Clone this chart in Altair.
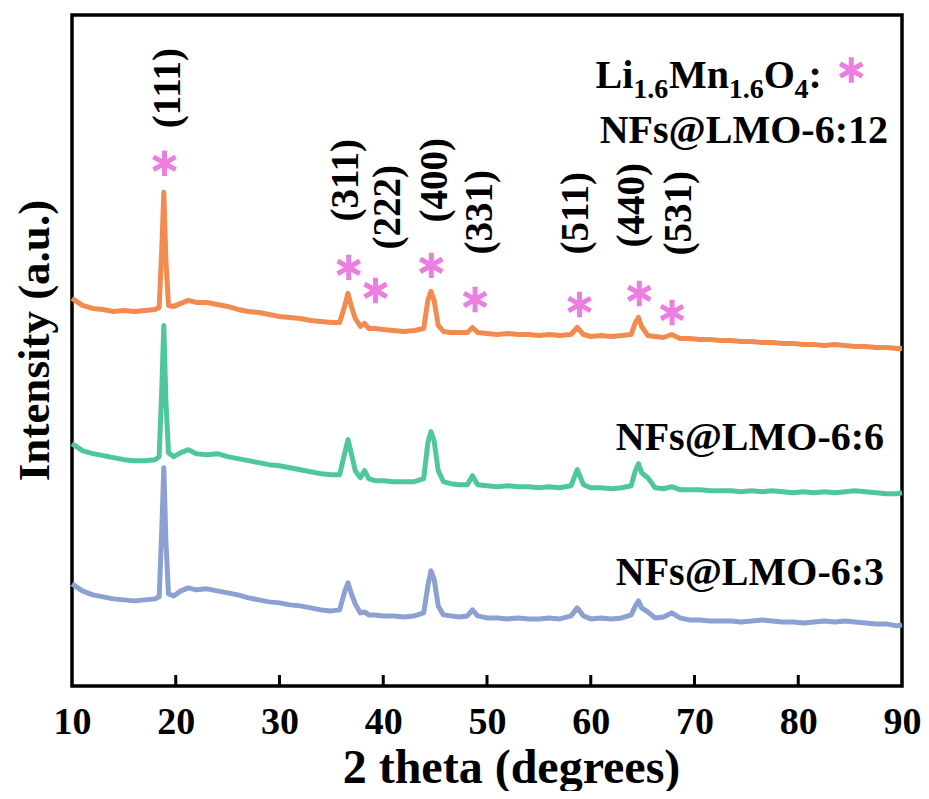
import altair as alt
import pandas as pd

# ---------------- data ----------------
TWO_THETA = [
    10, 11, 12, 13, 14, 15, 16, 17, 18,
    18.4, 18.65, 18.85, 19.05, 19.3, 19.8, 20.5, 21.2,
    22, 23, 24, 25, 26, 27, 28, 29, 30, 31, 32, 33, 34, 35,
    35.8, 36.3, 36.6, 36.9, 37.3, 37.8, 38.2, 38.6, 39.2,
    40, 41, 42, 43,
    43.9, 44.3, 44.6, 44.9, 45.3, 45.8, 46.5, 47.3, 48.1, 48.6, 49.1,
    50, 51, 52, 53, 54, 55, 56, 57,
    58.1, 58.7, 59.3, 60, 61, 62, 63,
    63.9, 64.3, 64.6, 64.9, 65.5, 66.2, 67, 67.8, 68.6, 69.5,
    70.5, 71.5, 72.5, 73.5, 74.5, 75.5, 76.5, 77.5, 78.5, 79.5,
    80.5, 81.5, 82.5, 83.5, 84.5, 85.5, 86.5, 87.5, 88.5, 89.5, 90,
]

I_6_12 = [
    387, 380, 377, 376, 374, 375, 374, 375, 376,
    378, 435, 493, 425, 380, 379, 382, 385,
    383, 383, 381, 379, 376, 374, 373, 371, 369, 368, 367, 365, 364, 363,
    363, 380, 392, 380, 367, 359, 362, 357, 357,
    356, 355, 354, 355,
    357, 385, 394, 385, 360, 354, 353, 353, 353, 358, 353,
    352, 351, 352, 351, 351, 350, 351, 350,
    351, 358, 351, 349, 350, 349, 350,
    351, 363, 368, 359, 350, 349, 348, 351, 347, 347,
    346, 346, 345, 345, 344, 344, 343, 343, 342, 342,
    341, 341, 340, 341, 340, 339, 339, 338, 338, 337, 337,
]

I_6_6 = [
    242, 235, 232, 230, 228, 226, 225, 225, 226,
    229, 295, 360, 285, 233, 229, 233, 236,
    232, 231, 232, 229, 227, 225, 223, 221, 220, 218, 216, 214, 212, 211,
    211, 233, 246, 233, 215, 208, 215, 207, 205,
    205, 204, 204, 204,
    207, 243, 254, 245, 215, 204, 202, 201, 201, 210, 201,
    200, 199, 200, 199, 199, 198, 199, 198,
    200, 216, 201, 198, 198, 197, 198,
    200, 215, 222, 213, 208, 198, 197, 199, 196, 196,
    196, 195, 195, 195, 194, 195, 194, 195, 194, 193,
    194, 193, 194, 193, 194, 195, 194, 193, 192, 192, 193,
]

I_6_3 = [
    102, 95, 91, 89, 87, 86, 85, 86, 87,
    89, 155, 218, 145, 92, 90, 95, 98,
    96, 97, 95, 93, 91, 88, 86, 84, 83, 81, 80, 78, 76, 75,
    76, 95, 103, 93, 82, 73, 74, 71, 71,
    70, 70, 69, 70,
    73, 100, 115, 107, 80, 71, 70, 69, 70, 76, 70,
    68, 68, 67, 68, 67, 67, 68, 67,
    70, 78, 70, 67, 68, 67, 68,
    71, 80, 85, 78, 74, 68, 69, 73, 68, 66,
    66, 65, 65, 65, 64, 65, 66, 65, 64, 64,
    63, 64, 65, 64, 65, 64, 63, 62, 62, 60, 61,
]

SERIES = ["NFs@LMO-6:12", "NFs@LMO-6:6", "NFs@LMO-6:3"]
COLORS = ["#F28B50", "#4FC79C", "#8CA0D2"]

# reflections (hkl) : label position and asterisk position
HKL = ["(111)", "(311)", "(222)", "(400)", "(331)", "(511)", "(440)", "(531)"]
HKL_X = [19.21, 36.38, 40.50, 45.01, 49.33, 58.54, 64.01, 68.51]
HKL_Y = [597, 505, 478, 505, 473, 472, 480, 472]
STAR_X = [18.92, 36.67, 39.26, 44.63, 48.85, 58.92, 64.68, 67.84, 85.11]
STAR_Y = [522, 418, 395, 420, 386, 381, 392, 373, 615]

# sample labels
LABEL_TEXT = ["NFs@LMO-6:12", "NFs@LMO-6:6", "NFs@LMO-6:3"]
LABEL_X = [88.65, 88.27, 88.27]
LABEL_Y = [542, 236, 101]

# Li1.6Mn1.6O4: formula pieces (text, 2theta, intensity, font size)
FORM_TEXT = ["Li", "1.6", "Mn", "1.6", "O", "4", ":"]
FORM_X = [60.46, 64.10, 67.55, 73.31, 76.67, 79.64, 80.98]
FORM_Y = [597, 587, 597, 587, 597, 587, 597]
FORM_SIZE = [40, 28, 40, 28, 40, 28, 40]

X_TICKS = [10, 20, 30, 40, 50, 60, 70, 80, 90]
INNER_TICKS = [20, 30, 40, 50, 60, 70, 80]

assert len(TWO_THETA) == len(I_6_12) == len(I_6_6) == len(I_6_3)

# ---------------- tables ----------------
rows = []
for name, vals in zip(SERIES, [I_6_12, I_6_6, I_6_3]):
    for t, v in zip(TWO_THETA, vals):
        rows.append({"theta": t, "I": v, "series": name})
curves = pd.DataFrame(rows)
hkl_df = pd.DataFrame({"t": HKL, "x": HKL_X, "y": HKL_Y})
star_df = pd.DataFrame({"x": STAR_X, "y": STAR_Y})
lab_df = pd.DataFrame({"t": LABEL_TEXT, "x": LABEL_X, "y": LABEL_Y})
form_df = pd.DataFrame({"t": FORM_TEXT, "x": FORM_X, "y": FORM_Y, "s": FORM_SIZE})
tick_df = pd.DataFrame({"x": INNER_TICKS})

FONT = "Liberation Serif, Times New Roman, DejaVu Serif, serif"
W, H = 830, 671

xscale = alt.Scale(domain=[10, 90], nice=False, zero=False)
yscale = alt.Scale(domain=[0, 670], nice=False, zero=False)

xenc = alt.X(
    "theta:Q", scale=xscale,
    axis=alt.Axis(
        title="2 theta (degrees)", values=X_TICKS, format="d",
        ticks=False, tickSize=0, grid=False, domain=False,
        labelFont=FONT, labelFontSize=38, labelFontWeight="bold", labelColor="black",
        labelBaseline="alphabetic", labelPadding=47, labelFlush=False,
        titleFont=FONT, titleFontSize=48, titleFontWeight="bold", titleColor="black",
        titleX=439, titleY=96, titleBaseline="alphabetic", titleAlign="center",
    ),
)
yenc = alt.Y(
    "I:Q", scale=yscale,
    axis=alt.Axis(
        title="Intensity (a.u.)", labels=False, ticks=False, tickSize=0,
        grid=False, domain=False,
        titleFont=FONT, titleFontSize=45, titleFontWeight="bold", titleColor="black",
        titleX=-24, titleY=325, titleAngle=270, titleAlign="center",
        titleBaseline="alphabetic",
    ),
)

lines = alt.Chart(curves).mark_line(strokeWidth=5, strokeJoin="round").encode(
    x=xenc, y=yenc,
    color=alt.Color("series:N", scale=alt.Scale(domain=SERIES, range=COLORS), legend=None),
    detail="series:N",
)

ticks = alt.Chart(tick_df).mark_rule(color="black", strokeWidth=3).encode(
    x=alt.X("x:Q", scale=xscale), y=alt.value(H), y2=alt.value(H - 11)
)

ASTERISK = "M0,-1L0,1M-0.87,-0.5L0.87,0.5M-0.87,0.5L0.87,-0.5"
stars = alt.Chart(star_df).mark_point(
    shape=ASTERISK, filled=False, stroke="#EC7EDF", strokeWidth=5, size=650, opacity=1
).encode(x=alt.X("x:Q", scale=xscale), y=alt.Y("y:Q", scale=yscale))

hkl = alt.Chart(hkl_df).mark_text(
    angle=270, align="center", baseline="middle", font=FONT, fontSize=39,
    fontWeight="bold", color="black"
).encode(x=alt.X("x:Q", scale=xscale), y=alt.Y("y:Q", scale=yscale), text="t:N")

labels = alt.Chart(lab_df).mark_text(
    align="right", baseline="alphabetic", font=FONT, fontSize=40,
    fontWeight="bold", color="black"
).encode(x=alt.X("x:Q", scale=xscale), y=alt.Y("y:Q", scale=yscale), text="t:N")

formula = alt.Chart(form_df).mark_text(
    align="left", baseline="alphabetic", font=FONT, fontWeight="bold", color="black"
).encode(
    x=alt.X("x:Q", scale=xscale), y=alt.Y("y:Q", scale=yscale), text="t:N",
    size=alt.Size("s:Q", scale=None, legend=None),
)

chart = alt.layer(lines, ticks, stars, hkl, labels, formula).properties(
    width=W, height=H,
    background="white",
    autosize=alt.AutoSizeParams(type="none"),
    padding={"left": 64, "top": 7, "right": 19, "bottom": 105},
).configure_view(stroke="black", strokeWidth=3.5)

chart.save("out.html", embed_options={"renderer": "svg", "actions": False})
